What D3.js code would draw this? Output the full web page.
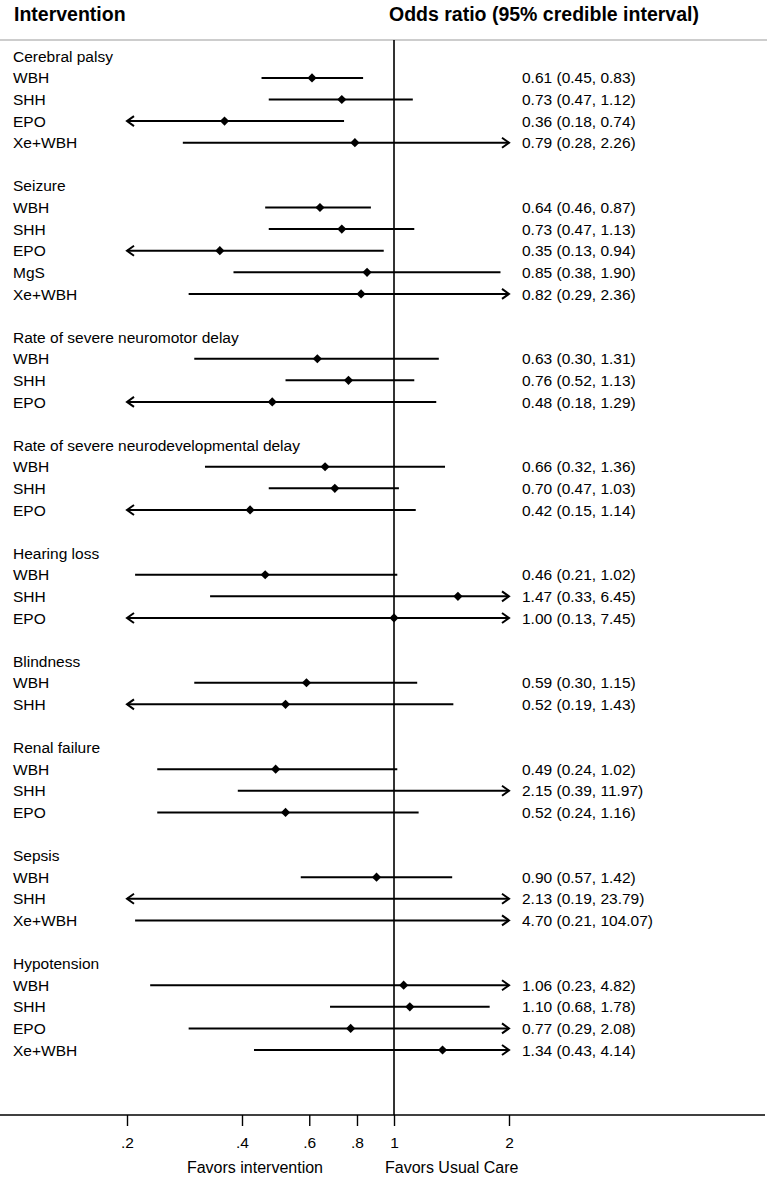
<!DOCTYPE html>
<html>
<head>
<meta charset="utf-8">
<script src="https://cdn.jsdelivr.net/npm/d3@7"></script>
<style>
  html, body { margin: 0; padding: 0; background: #fff; }
  svg { display: block; font-family: "Liberation Sans", Arial, Helvetica, sans-serif; }
</style>
</head>
<body>
<svg id="chart" width="767" height="1179"></svg>
<script>
// ---------- DATA ----------
const outcomes = [
  "Cerebral palsy", "Seizure", "Rate of severe neuromotor delay",
  "Rate of severe neurodevelopmental delay", "Hearing loss", "Blindness",
  "Renal failure", "Sepsis", "Hypotension"
];
const interventions = [
  ["WBH", "SHH", "EPO", "Xe+WBH"],
  ["WBH", "SHH", "EPO", "MgS", "Xe+WBH"],
  ["WBH", "SHH", "EPO"],
  ["WBH", "SHH", "EPO"],
  ["WBH", "SHH", "EPO"],
  ["WBH", "SHH"],
  ["WBH", "SHH", "EPO"],
  ["WBH", "SHH", "Xe+WBH"],
  ["WBH", "SHH", "EPO", "Xe+WBH"]
];
const estimates = [
  [0.61, 0.73, 0.36, 0.79],
  [0.64, 0.73, 0.35, 0.85, 0.82],
  [0.63, 0.76, 0.48],
  [0.66, 0.70, 0.42],
  [0.46, 1.47, 1.00],
  [0.59, 0.52],
  [0.49, 2.15, 0.52],
  [0.90, 2.13, 4.70],
  [1.06, 1.10, 0.77, 1.34]
];
const lowers = [
  [0.45, 0.47, 0.18, 0.28],
  [0.46, 0.47, 0.13, 0.38, 0.29],
  [0.30, 0.52, 0.18],
  [0.32, 0.47, 0.15],
  [0.21, 0.33, 0.13],
  [0.30, 0.19],
  [0.24, 0.39, 0.24],
  [0.57, 0.19, 0.21],
  [0.23, 0.68, 0.29, 0.43]
];
const uppers = [
  [0.83, 1.12, 0.74, 2.26],
  [0.87, 1.13, 0.94, 1.90, 2.36],
  [1.31, 1.13, 1.29],
  [1.36, 1.03, 1.14],
  [1.02, 6.45, 7.45],
  [1.15, 1.43],
  [1.02, 11.97, 1.16],
  [1.42, 23.79, 104.07],
  [4.82, 1.78, 2.08, 4.14]
];
const tickValues = [0.2, 0.4, 0.6, 0.8, 1, 2];
const tickLabels = [".2", ".4", ".6", ".8", "1", "2"];

// ---------- BUILD ROWS ----------
const rows = [];
outcomes.forEach((o, g) => {
  rows.push({ type: "head", label: o });
  interventions[g].forEach((iv, j) => {
    rows.push({ type: "item", label: iv, est: estimates[g][j], lo: lowers[g][j], hi: uppers[g][j] });
  });
  if (g < outcomes.length - 1) rows.push({ type: "blank" });
});

// ---------- SCALES ----------
const W = 767, H = 1179;
const svg = d3.select("#chart");
const x = d3.scaleLog().domain([0.2, 2]).range([127, 509]);
const y = d3.scaleLinear().domain([0, rows.length - 1]).range([56.3, 1050]);
const axisY = 1115;
const fmt = v => v.toFixed(2);
const FS = 15.5;

// header
svg.append("text").attr("x", 14).attr("y", 21).attr("font-size", 19.5).attr("font-weight", "bold")
  .attr("fill", "#000").text("Intervention");
svg.append("text").attr("x", 389).attr("y", 21).attr("font-size", 19.5).attr("font-weight", "bold")
  .attr("fill", "#000").text("Odds ratio (95% credible interval)");
svg.append("line").attr("x1", 0).attr("x2", W).attr("y1", 40).attr("y2", 40)
  .attr("stroke", "#bdbdbd").attr("stroke-width", 1.5);

// reference line at 1
svg.append("line").attr("x1", x(1)).attr("x2", x(1)).attr("y1", 40).attr("y2", axisY)
  .attr("stroke", "#000").attr("stroke-width", 1.6);

// rows
const g = svg.append("g");
rows.forEach((r, i) => {
  const yy = y(i);
  if (r.type === "blank") return;
  g.append("text").attr("x", 13).attr("y", yy).attr("dy", "0.36em").attr("font-size", FS)
    .attr("fill", "#000").text(r.label);
  if (r.type !== "item") return;
  const [d0, d1] = x.domain();
  const a = Math.max(r.lo, d0), b = Math.min(r.hi, d1);
  g.append("line").attr("x1", x(a)).attr("x2", x(b)).attr("y1", yy).attr("y2", yy)
    .attr("stroke", "#000").attr("stroke-width", 2);
  if (r.lo < d0) {
    const xa = x(d0);
    g.append("path").attr("d", `M${xa + 7},${yy - 5}L${xa},${yy}L${xa + 7},${yy + 5}`)
      .attr("fill", "none").attr("stroke", "#000").attr("stroke-width", 2);
  }
  if (r.hi > d1) {
    const xb = x(d1);
    g.append("path").attr("d", `M${xb - 7},${yy - 5}L${xb},${yy}L${xb - 7},${yy + 5}`)
      .attr("fill", "none").attr("stroke", "#000").attr("stroke-width", 2);
  }
  if (r.est >= d0 && r.est <= d1) {
    const xe = x(r.est), s = 4.6;
    g.append("path").attr("d", `M${xe},${yy - s}L${xe + s},${yy}L${xe},${yy + s}L${xe - s},${yy}Z`)
      .attr("fill", "#000");
  }
  g.append("text").attr("x", 522).attr("y", yy).attr("dy", "0.36em").attr("font-size", FS)
    .attr("fill", "#000").text(`${fmt(r.est)} (${fmt(r.lo)}, ${fmt(r.hi)})`);
});

// x axis
svg.append("line").attr("x1", 0).attr("x2", 765).attr("y1", axisY).attr("y2", axisY)
  .attr("stroke", "#000").attr("stroke-width", 1.6);
const axis = d3.axisBottom(x).tickValues(tickValues)
  .tickFormat((d, i) => tickLabels[i]).tickSize(11).tickPadding(11);
const ag = svg.append("g").attr("transform", `translate(0,${axisY})`).call(axis);
ag.select(".domain").remove();
ag.selectAll(".tick line").attr("stroke", "#000").attr("stroke-width", 1.4);
ag.selectAll(".tick text").attr("font-size", FS).attr("fill", "#000")
  .attr("font-family", "\"Liberation Sans\", Arial, sans-serif");

svg.append("text").attr("x", 323).attr("y", 1173).attr("text-anchor", "end").attr("font-size", 16)
  .attr("fill", "#000").text("Favors intervention");
svg.append("text").attr("x", 385).attr("y", 1173).attr("text-anchor", "start").attr("font-size", 16)
  .attr("fill", "#000").text("Favors Usual Care");
</script>
</body>
</html>
